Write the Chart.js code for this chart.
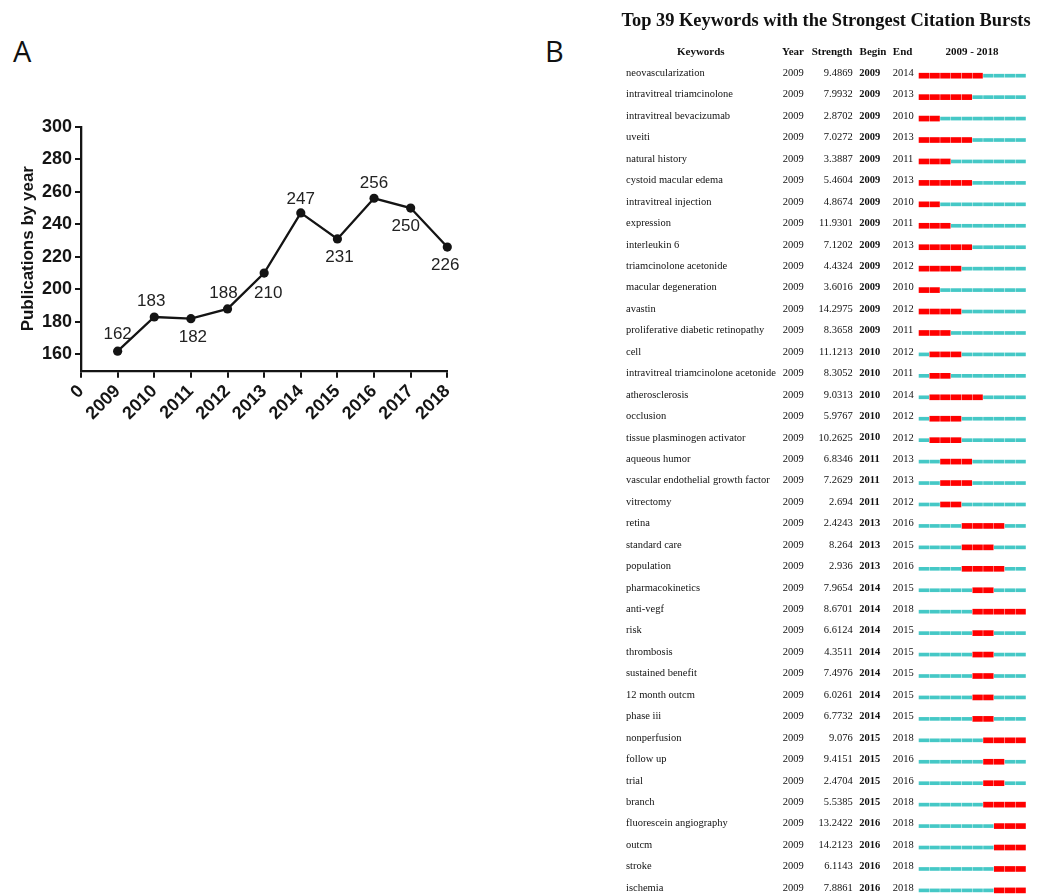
<!DOCTYPE html>
<html>
<head>
<meta charset="utf-8">
<script src="https://cdn.jsdelivr.net/npm/chart.js@4.4.0/dist/chart.umd.min.js"></script>
<style>
  body { margin: 0; background: #fff; width: 1047px; height: 896px; position: relative; overflow: hidden; }
  .panel-label { position: absolute; font-family: 'Open Sans', sans-serif; font-size: 29px; line-height: 29px; color: #111; }
  #boxA { position: absolute; left: 0; top: 90px; }
  #boxB { position: absolute; left: 610px; top: 0; }
</style>
</head>
<body>
<div class="panel-label" style="left:13px; top:36px;">A</div>
<div class="panel-label" style="left:545px; top:36px;">B</div>
<div id="boxA"><canvas id="chartA" width="480" height="360"></canvas></div>
<div id="boxB"><canvas id="chartB" width="437" height="896"></canvas></div>
<script>
// Panel A - publications by year
const years = [2009, 2010, 2011, 2012, 2013, 2014, 2015, 2016, 2017, 2018];
const publications = [162, 183, 182, 188, 210, 247, 231, 256, 250, 226];
const yTicks = [160, 180, 200, 220, 240, 260, 280, 300];
const xTicks = [2008, 2009, 2010, 2011, 2012, 2013, 2014, 2015, 2016, 2017, 2018];
const xTickLabels = ['0', '2009', '2010', '2011', '2012', '2013', '2014', '2015', '2016', '2017', '2018'];

// Panel B - citation bursts
const keywords = [
  'neovascularization', 'intravitreal triamcinolone', 'intravitreal bevacizumab', 'uveiti',
  'natural history', 'cystoid macular edema', 'intravitreal injection', 'expression',
  'interleukin 6', 'triamcinolone acetonide', 'macular degeneration', 'avastin',
  'proliferative diabetic retinopathy', 'cell', 'intravitreal triamcinolone acetonide',
  'atherosclerosis', 'occlusion', 'tissue plasminogen activator', 'aqueous humor',
  'vascular endothelial growth factor', 'vitrectomy', 'retina', 'standard care', 'population',
  'pharmacokinetics', 'anti-vegf', 'risk', 'thrombosis', 'sustained benefit', '12 month outcm',
  'phase iii', 'nonperfusion', 'follow up', 'trial', 'branch', 'fluorescein angiography',
  'outcm', 'stroke', 'ischemia'
];
const firstYear = keywords.map(() => 2009);
const strength = [
  9.4869, 7.9932, 2.8702, 7.0272, 3.3887, 5.4604, 4.8674, 11.9301, 7.1202, 4.4324,
  3.6016, 14.2975, 8.3658, 11.1213, 8.3052, 9.0313, 5.9767, 10.2625, 6.8346, 7.2629,
  2.694, 2.4243, 8.264, 2.936, 7.9654, 8.6701, 6.6124, 4.3511, 7.4976, 6.0261,
  6.7732, 9.076, 9.4151, 2.4704, 5.5385, 13.2422, 14.2123, 6.1143, 7.8861
];
const burstBegin = [
  2009, 2009, 2009, 2009, 2009, 2009, 2009, 2009, 2009, 2009,
  2009, 2009, 2009, 2010, 2010, 2010, 2010, 2010, 2011, 2011,
  2011, 2013, 2013, 2013, 2014, 2014, 2014, 2014, 2014, 2014,
  2014, 2015, 2015, 2015, 2015, 2016, 2016, 2016, 2016
];
const burstEnd = [
  2014, 2013, 2010, 2013, 2011, 2013, 2010, 2011, 2013, 2012,
  2010, 2012, 2011, 2012, 2011, 2014, 2012, 2012, 2013, 2013,
  2012, 2016, 2015, 2016, 2015, 2018, 2015, 2015, 2015, 2015,
  2015, 2018, 2016, 2016, 2018, 2018, 2018, 2018, 2018
];
const sliceYears = [2009, 2010, 2011, 2012, 2013, 2014, 2015, 2016, 2017, 2018];

const ink = '#141414';

// etiquetas de valor encima / debajo de cada punto
const pointLabels = {
  id: 'pointLabels',
  afterDatasetsDraw(chart, args, opts) {
    const ctx = chart.ctx;
    const meta = chart.getDatasetMeta(0);
    ctx.save();
    ctx.font = '17px "Liberation Sans", Arial, sans-serif';
    ctx.fillStyle = '#222';
    ctx.textAlign = 'center';
    ctx.textBaseline = 'middle';
    meta.data.forEach((pt, i) => {
      const off = opts.offsets[i];
      ctx.fillText(String(publications[i]), pt.x + off[0], pt.y + off[1]);
    });
    ctx.restore();
  }
};

new Chart(document.getElementById('chartA'), {
  type: 'line',
  data: {
    datasets: [{
      data: years.map((x, i) => ({ x: x, y: publications[i] })),
      borderColor: ink,
      borderWidth: 2.3,
      pointRadius: 4.6,
      pointBackgroundColor: ink,
      pointBorderWidth: 0,
      tension: 0,
      clip: false
    }]
  },
  options: {
    responsive: false,
    animation: false,
    layout: { padding: { left: 0, top: 36.7, right: 32.7, bottom: 0 } },
    plugins: {
      legend: { display: false },
      tooltip: { enabled: false },
      pointLabels: {
        offsets: [[0, -17], [-3, -16], [2, 19], [-4, -16], [4, 20], [0, -14], [2, 18], [0, -15], [-5, 18], [-2, 18]]
      }
    },
    scales: {
      x: {
        type: 'linear',
        min: 2008,
        max: 2018,
        afterBuildTicks: s => { s.ticks = xTicks.map(v => ({ value: v })); },
        afterFit: s => { s.height = 79.3; },
        ticks: {
          autoSkip: false,
          minRotation: 45,
          maxRotation: 45,
          padding: 3,
          color: ink,
          font: { family: '"Liberation Sans", Arial, sans-serif', size: 18, weight: 'bold' },
          callback: (v, i) => xTickLabels[i]
        },
        grid: { drawOnChartArea: false, drawTicks: true, tickLength: 7, color: ink, lineWidth: 2 },
        border: { display: true, color: ink, width: 2.3 }
      },
      y: {
        min: 150,
        max: 300,
        afterBuildTicks: s => { s.ticks = yTicks.map(v => ({ value: v })); },
        afterFit: s => { s.width = 81; },
        ticks: {
          padding: 3,
          color: ink,
          font: { family: '"Liberation Sans", Arial, sans-serif', size: 18, weight: 'bold' }
        },
        grid: { drawOnChartArea: false, drawTicks: true, tickLength: 6, color: ink, lineWidth: 2 },
        border: { display: true, color: ink, width: 2.3 },
        title: {
          display: true,
          text: 'Publications by year',
          color: ink,
          padding: { top: 18, bottom: 0 },
          font: { family: '"Liberation Sans", Arial, sans-serif', size: 17, weight: 'bold' }
        }
      }
    }
  },
  plugins: [pointLabels]
});

// tabla de texto dibujada alineada con las filas de la escala
const burstTable = {
  id: 'burstTable',
  afterDraw(chart, args, o) {
    const ctx = chart.ctx;
    const yScale = chart.scales.y;
    ctx.save();
    ctx.fillStyle = '#111';
    ctx.textBaseline = 'middle';

    ctx.font = 'bold 18.4px "Liberation Serif", "Times New Roman", serif';
    ctx.textAlign = 'center';
    ctx.fillText('Top ' + keywords.length + ' Keywords with the Strongest Citation Bursts', o.titleX, o.titleY);

    ctx.font = 'bold 11px "Liberation Serif", "Times New Roman", serif';
    const heads = ['Keywords', 'Year', 'Strength', 'Begin', 'End', sliceYears[0] + ' - ' + sliceYears[sliceYears.length - 1]];
    heads.forEach((h, i) => ctx.fillText(h, o.headX[i], o.headY));

    const c = o.cols;
    keywords.forEach((kw, i) => {
      const y = yScale.getPixelForValue(i) + o.textDy;
      ctx.font = '10.5px "Liberation Serif", "Times New Roman", serif';
      ctx.textAlign = 'left';
      ctx.fillText(kw, c.keyword, y);
      ctx.fillText(String(firstYear[i]), c.year, y);
      ctx.fillText(String(burstEnd[i]), c.end, y);
      ctx.textAlign = 'right';
      ctx.fillText(String(strength[i]), c.strength, y);
      ctx.font = 'bold 10.5px "Liberation Serif", "Times New Roman", serif';
      ctx.textAlign = 'left';
      ctx.fillText(String(burstBegin[i]), c.begin, y);
    });
    ctx.restore();
  }
};

const sliceDatasets = [];
sliceYears.forEach(yr => {
  sliceDatasets.push({
    data: keywords.map((k, i) => (yr < burstBegin[i] || yr > burstEnd[i]) ? [yr + 0.05, yr + 0.95] : null),
    backgroundColor: '#45C8C6',
    barThickness: 3,
    grouped: false,
    clip: false
  });
  sliceDatasets.push({
    data: keywords.map((k, i) => (yr >= burstBegin[i] && yr <= burstEnd[i]) ? [yr + 0.05, yr + 0.95] : null),
    backgroundColor: '#FF0000',
    barThickness: 5,
    grouped: false,
    clip: false
  });
});

new Chart(document.getElementById('chartB'), {
  type: 'bar',
  data: { labels: keywords, datasets: sliceDatasets },
  options: {
    indexAxis: 'y',
    responsive: false,
    animation: false,
    layout: { padding: { left: 308.5, right: 21, top: 75.7, bottom: 5.6 } },
    plugins: {
      legend: { display: false },
      tooltip: { enabled: false },
      burstTable: {
        titleX: 216, titleY: 21,
        headX: [90.8, 183, 222, 263, 292.6, 362], headY: 52,
        cols: { keyword: 16, year: 172.7, strength: 242.7, begin: 249.3, end: 282.7 },
        textDy: -2.4
      }
    },
    scales: {
      x: { type: 'linear', min: 2009, max: 2019, display: false },
      y: { type: 'category', offset: false, display: false }
    }
  },
  plugins: [burstTable]
});
</script>
</body>
</html>
